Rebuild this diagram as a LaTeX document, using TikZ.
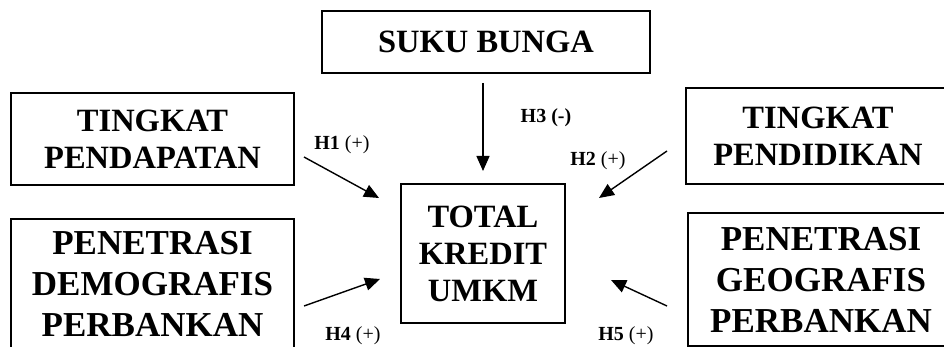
\documentclass[tikz,border=0pt]{standalone}
\usepackage{fontspec}
\setmainfont{Liberation Serif}
\usetikzlibrary{arrows.meta}
\tikzset{
  varbox/.style={draw, line width=1.8pt, align=center, inner sep=0pt,
    font=\bfseries\fontsize{32.5}{37}\selectfont},
  bigbox/.style={varbox, font=\bfseries\fontsize{35}{41}\selectfont},
  hyp/.style={inner sep=0pt, font=\fontsize{20}{24}\selectfont},
  conn/.style={-{Triangle[length=15pt,width=13pt]}, line width=1.4pt}
}
\begin{document}
\begin{tikzpicture}[x=1pt,y=-1pt]
\clip (0,0) rectangle (944,347);

\node[varbox, minimum width=328pt, minimum height=62pt] (suku) at (486,42) {SUKU BUNGA};
\node[varbox, minimum width=283pt, minimum height=92pt] (pendapatan) at (152.5,139) {TINGKAT\\PENDAPATAN};
\node[varbox, minimum width=264pt, minimum height=96pt] (pendidikan) at (818,136) {TINGKAT\\PENDIDIKAN};
\node[varbox, minimum width=164pt, minimum height=139pt] (total) at (483,253.5) {TOTAL\\KREDIT\\UMKM};
\node[bigbox, minimum width=283pt, minimum height=129pt] (demografis) at (152.5,283.5) {PENETRASI\\DEMOGRAFIS\\PERBANKAN};
\node[bigbox, minimum width=266pt, minimum height=133pt] (geografis) at (821,279.5) {PENETRASI\\GEOGRAFIS\\PERBANKAN};

\coordinate (h1a) at (304,157);
\coordinate (h1b) at (379,198);
\coordinate (h2a) at (667,151);
\coordinate (h2b) at (599,198);
\coordinate (h3a) at (483,83);
\coordinate (h3b) at (483,171);
\coordinate (h4a) at (304,306);
\coordinate (h4b) at (380,279);
\coordinate (h5a) at (667,306);
\coordinate (h5b) at (611,280);

\draw[conn] (h1a) -- (h1b);
\draw[conn] (h2a) -- (h2b);
\draw[conn] (h3a) -- (h3b);
\draw[conn] (h4a) -- (h4b);
\draw[conn] (h5a) -- (h5b);

\node[hyp] (lh1) at (342,145) {\textbf{H1} (+)};
\node[hyp] (lh2) at (598,161) {\textbf{H2} (+)};
\node[hyp] (lh3) at (546,118) {\textbf{H3 (-)}};
\node[hyp] (lh4) at (353,336) {\textbf{H4} (+)};
\node[hyp] (lh5) at (626,336) {\textbf{H5} (+)};
\end{tikzpicture}
\end{document}
